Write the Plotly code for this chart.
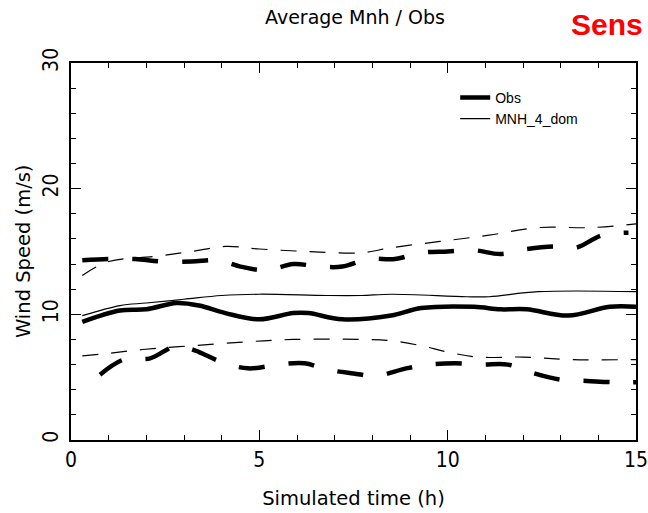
import plotly.graph_objects as go

# Obs mean (thick solid)
obs_t = [0.3, 1.3, 2.0, 2.8, 3.4, 4.1, 5.0, 5.9, 6.3, 7.2, 8.5, 9.3, 10.7, 11.4, 12.1, 13.2, 14.3, 15.0]
obs_v = [9.4, 10.3, 10.4, 10.9, 10.7, 10.1, 9.6, 10.1, 10.1, 9.6, 9.9, 10.5, 10.6, 10.4, 10.4, 9.9, 10.6, 10.6]

# Obs upper envelope (thick dashed)
obs_up_t = [0.3, 1.0, 1.7, 2.4, 3.2, 3.9, 4.5, 5.2, 5.9, 6.6, 7.2, 7.9, 8.6, 9.3, 10.0, 10.7, 11.4, 12.1, 12.8, 13.4, 14.1, 14.8]
obs_up_v = [14.3, 14.4, 14.4, 14.2, 14.2, 14.3, 13.8, 13.5, 14.0, 13.8, 13.8, 14.4, 14.4, 14.9, 15.0, 15.1, 14.8, 15.2, 15.4, 15.3, 16.3, 16.5]

# Obs lower envelope (thick dashed)
obs_lo_t = [0.77, 1.4, 2.1, 2.7, 3.0, 3.4, 4.0, 4.7, 5.5, 6.2, 6.8, 7.5, 8.1, 8.9, 9.5, 10.2, 10.9, 11.6, 12.3, 13.0, 13.7, 14.4, 15.0]
obs_lo_v = [5.2, 6.4, 6.5, 7.4, 7.4, 7.0, 6.2, 5.7, 6.0, 6.1, 5.6, 5.3, 5.1, 5.7, 6.0, 6.1, 6.0, 6.0, 5.3, 4.8, 4.7, 4.6, 4.6]

# MNH_4_dom mean (thin solid)
mnh_t = [0.3, 1.3, 2.0, 3.0, 4.0, 5.0, 6.8, 7.7, 8.5, 10.5, 11.1, 12.4, 15.0]
mnh_v = [9.9, 10.7, 10.9, 11.2, 11.5, 11.6, 11.5, 11.5, 11.6, 11.4, 11.4, 11.8, 11.8]

# MNH upper envelope (thin dashed)
mnh_up_t = [0.3, 1.0, 2.2, 3.2, 4.1, 5.0, 6.3, 7.7, 8.5, 9.8, 11.1, 12.4, 13.8, 15.0]
mnh_up_v = [13.1, 14.2, 14.6, 15.0, 15.4, 15.2, 15.0, 14.9, 15.3, 15.8, 16.3, 16.9, 16.9, 17.2]

# MNH lower envelope (thin dashed)
mnh_lo_t = [0.3, 1.0, 1.9, 3.2, 4.6, 5.9, 7.7, 8.5, 9.3, 10.0, 10.8, 12.0, 13.3, 15.0]
mnh_lo_v = [6.7, 6.9, 7.2, 7.5, 7.8, 8.0, 8.0, 7.9, 7.5, 7.0, 6.6, 6.6, 6.4, 6.4]

x_ticks = [0, 5, 10, 15]
y_ticks = [0, 10, 20, 30]

fig = go.Figure()
thick = dict(color="black", width=4.5, shape="spline")
thin = dict(color="black", width=1.2, shape="spline")

fig.add_trace(go.Scatter(x=obs_t, y=obs_v, mode="lines", name="Obs", line=thick))
fig.add_trace(go.Scatter(x=mnh_t, y=mnh_v, mode="lines", name="MNH_4_dom", line=thin))
fig.add_trace(go.Scatter(x=obs_up_t, y=obs_up_v, mode="lines", showlegend=False,
                         line=dict(thick, dash="26px,24px")))
fig.add_trace(go.Scatter(x=obs_lo_t, y=obs_lo_v, mode="lines", showlegend=False,
                         line=dict(thick, dash="26px,24px")))
fig.add_trace(go.Scatter(x=mnh_up_t, y=mnh_up_v, mode="lines", showlegend=False,
                         line=dict(thin, dash="16px,13px")))
fig.add_trace(go.Scatter(x=mnh_lo_t, y=mnh_lo_v, mode="lines", showlegend=False,
                         line=dict(thin, dash="16px,13px")))

tickfont = dict(family="DejaVu Sans Condensed, DejaVu Sans", size=21, color="black")
fig.update_layout(
    width=648, height=513,
    margin=dict(l=71, r=12, t=63, b=73, autoexpand=False),
    paper_bgcolor="white", plot_bgcolor="white",
    showlegend=True,
    legend=dict(x=0.68, y=0.95, xanchor="left", yanchor="top",
                font=dict(family="Liberation Sans", size=14, color="black"),
                bgcolor="rgba(0,0,0,0)", tracegroupgap=0, itemwidth=30),
    title=dict(text="Average Mnh / Obs", x=355 / 648, xanchor="center", y=1 - 17 / 513, yanchor="middle",
               font=dict(family="DejaVu Sans", size=19, color="black")),
    annotations=[
        dict(text="<b>Sens</b>", xref="paper", yref="paper", x=(645 - 71) / 565, y=(440 - 25) / 377,
             xanchor="right", yanchor="middle", showarrow=False,
             font=dict(family="Liberation Sans Narrow, Liberation Sans", size=30, color="#ff0000")),
        dict(text="Wind Speed (m/s)", xref="paper", yref="paper", x=(23 - 71) / 565, y=(440 - 252) / 377,
             xanchor="center", yanchor="middle", textangle=-90, showarrow=False,
             font=dict(family="DejaVu Sans", size=19.5, color="black")),
    ],
)
fig.update_xaxes(range=[0, 15], tickvals=x_ticks, ticktext=[str(v) for v in x_ticks],
                 ticks="inside", ticklen=10, tickwidth=1.3, tickcolor="black",
                 ticklabeloverflow="allow",
                 minor=dict(dtick=1, ticks="inside", ticklen=5, tickwidth=1.3, tickcolor="black"),
                 showline=True, linecolor="black", linewidth=1.5, mirror="ticks",
                 showgrid=False, zeroline=False, tickfont=tickfont, automargin=False,
                 title=dict(text="Simulated time (h)", font=dict(family="DejaVu Sans", size=19.5, color="black"), standoff=20))
fig.update_yaxes(range=[0, 30], tickvals=y_ticks, ticktext=[str(v) for v in y_ticks],
                 ticks="inside", ticklen=10, tickwidth=1.3, tickcolor="black", tickangle=-90,
                 ticklabelstandoff=3, ticklabeloverflow="allow",
                 minor=dict(dtick=2, ticks="inside", ticklen=5, tickwidth=1.3, tickcolor="black"),
                 showline=True, linecolor="black", linewidth=1.5, mirror="ticks",
                 showgrid=False, zeroline=False, tickfont=tickfont, automargin=False)

fig.write_html("out.html", config={"displayModeBar": False},
               post_script="document.body.style.margin='0px';")
